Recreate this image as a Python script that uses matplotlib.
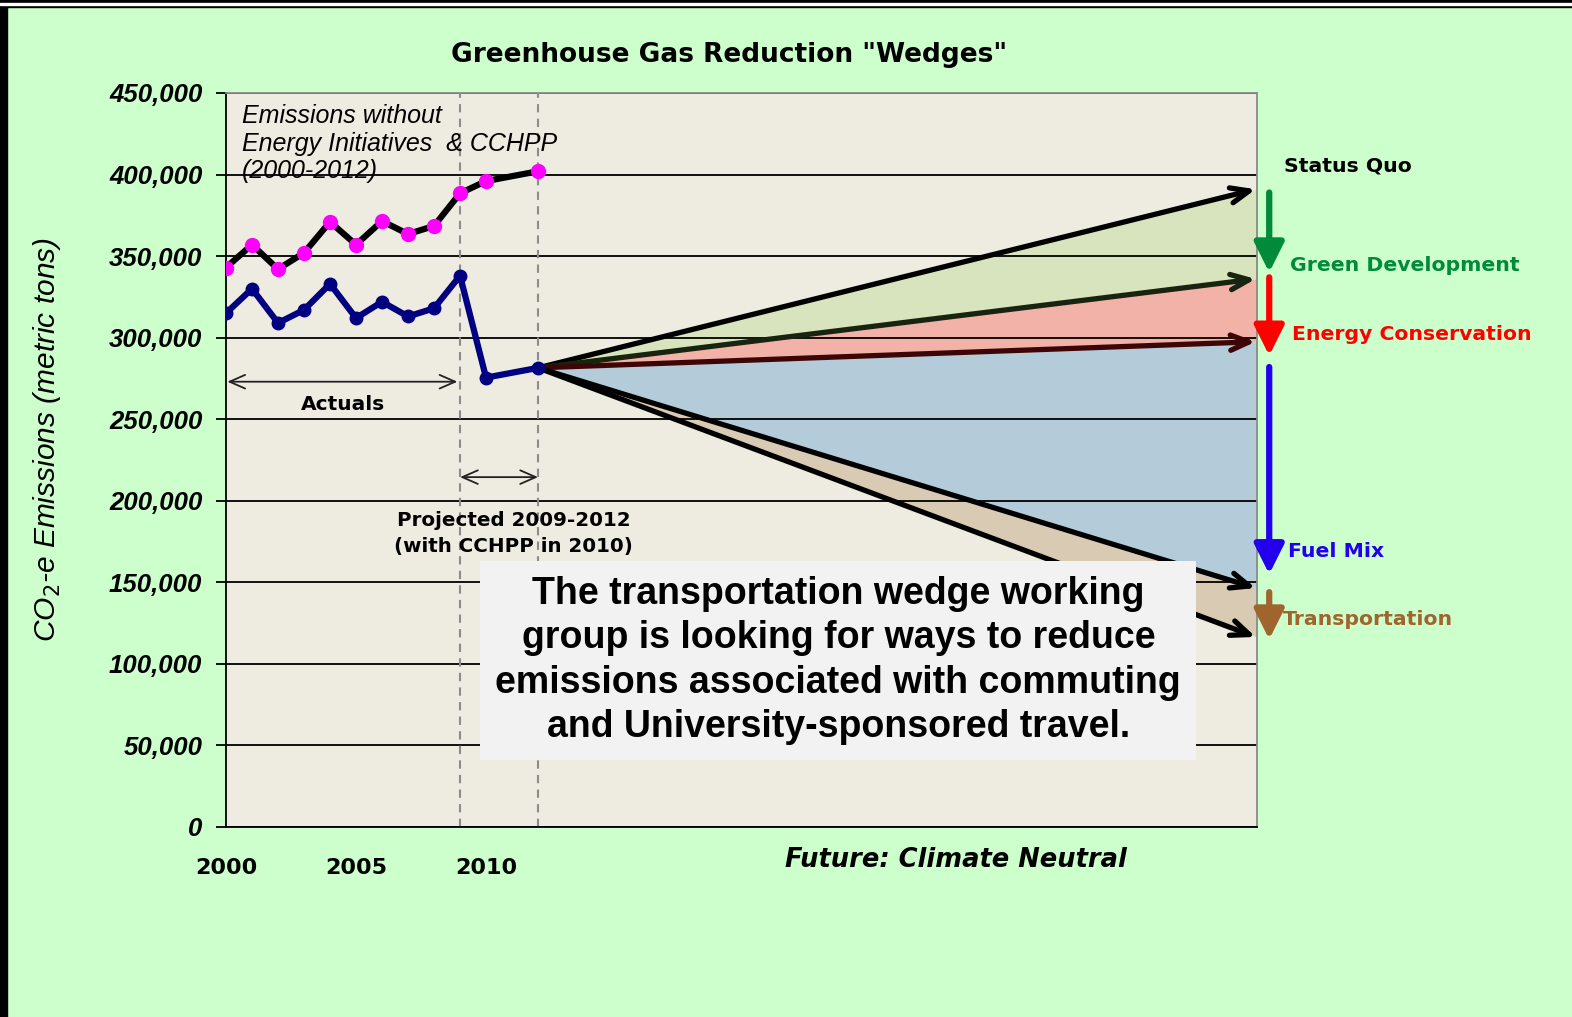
import matplotlib
matplotlib.use("Agg")
import matplotlib.pyplot as plt
from matplotlib.patches import Rectangle

plt.rcParams['font.family'] = ['Liberation Sans', 'DejaVu Sans']

# historical series (metric tons CO2-e)
years = [2000, 2001, 2002, 2003, 2004, 2005, 2006, 2007, 2008, 2009, 2010, 2012]
no_initiatives = [343000, 357000, 342000, 352000, 371000, 357000, 371500, 363500,
                  368500, 388500, 396000, 402000]
actual = [315000, 330000, 309000, 317000, 333000, 312000, 322000, 313000,
          318000, 338000, 275500, 281500]

# wedges: start (2012) and end values
wedge_start_year = 2012
wedge_end_year = 2039.6
wedge_names = ['Status Quo', 'Green Development', 'Energy Conservation', 'Fuel Mix', 'Transportation']
wedge_ends = [391000, 336000, 297500, 146500, 116500]
wedge_line_colors = ['#000000', '#18240f', '#3d0606', '#000000', '#000000']
wedge_fills = ['#d7e4bd', '#f2b2a8', '#b4cbd9', '#d9cab3']

# side arrows (start, end) and label heights
side_arrows = [(389000, 340000), (337000, 289000), (282000, 155000), (144000, 115000)]
side_colors = ['#008a3a', '#ff0000', '#2200ee', '#a0652e']
label_y = [405500, 344000, 302000, 169000, 127000]
label_colors = ['#000000', '#008a3a', '#ff0000', '#2200ee', '#a0652e']

yticks = [0, 50000, 100000, 150000, 200000, 250000, 300000, 350000, 400000, 450000]
xticks = [2000, 2005, 2010]

fig = plt.figure(figsize=(15.72, 10.17), dpi=100)
fig.patch.set_facecolor('#ccffcc')
ax = fig.add_axes([226 / 1572, 1 - 827 / 1017, 1031 / 1572, 734 / 1017])
ax.set_facecolor('#eeebe0')
ax.set_xlim(2000, 2039.65)
ax.set_ylim(0, 450000)

# frame of the slide
fig.patches.append(Rectangle((0, 1 - 7 / 1017), 1, 7 / 1017, transform=fig.transFigure,
                             color='black', zorder=10))
fig.patches.append(Rectangle((0, 1 - 4.5 / 1017), 1, 1.4 / 1017, transform=fig.transFigure,
                             color='white', zorder=11))
fig.patches.append(Rectangle((0, 0), 7 / 1572, 1, transform=fig.transFigure,
                             color='black', zorder=10))

# wedge fills
xw = [wedge_start_year, wedge_end_year + 0.05]
for i, c in enumerate(wedge_fills):
    ax.fill_between(xw, [actual[-1], wedge_ends[i]], [actual[-1], wedge_ends[i + 1]],
                    color=c, lw=0, zorder=1)

ax.set_axisbelow('line')
ax.yaxis.grid(True, color='black', lw=1.3)
ax.xaxis.grid(False)

for yr in [2009, 2012]:
    ax.axvline(yr, color='#8c8c8c', lw=1.5, ls=(0, (4, 3)), zorder=1.6)

# wedge lines with arrows
for end, col in zip(wedge_ends, wedge_line_colors):
    ax.annotate('', xy=(wedge_end_year, end), xytext=(wedge_start_year, actual[-1]),
                arrowprops=dict(arrowstyle='->,head_length=0.6,head_width=0.25', color=col,
                                lw=3.8, shrinkA=0, shrinkB=0, mutation_scale=22),
                zorder=3)

# historical lines
ax.plot(years, no_initiatives, color='black', lw=4.5, marker='o', ms=10,
        mfc='#ff00ff', mec='#ff00ff', zorder=4)
ax.plot(years, actual, color='#000080', lw=4.5, marker='o', ms=9,
        mfc='#000080', mec='#000080', zorder=4)

# axes styling
for s in ['left', 'bottom']:
    ax.spines[s].set_color('black')
    ax.spines[s].set_linewidth(1.3)
for s in ['top', 'right']:
    ax.spines[s].set_color('#8a8a8a')
    ax.spines[s].set_linewidth(1.3)

ax.set_yticks(yticks)
ax.set_yticklabels([f'{v:,}' for v in yticks])
ax.set_xticks(xticks)
ax.set_xticklabels([str(x) for x in xticks])
ax.tick_params(axis='y', length=7, width=1.3, pad=10, labelsize=18.5)
ax.tick_params(axis='x', length=0, pad=22, labelsize=16)
for lab in ax.get_yticklabels():
    lab.set_fontweight('bold')
    lab.set_fontstyle('italic')
for lab in ax.get_xticklabels():
    lab.set_fontweight('bold')
    lab.set_family('DejaVu Sans')

fig.text(47 / 1572, 1 - 440 / 1017, 'CO$_2$-e Emissions (metric tons)', rotation=90,
         ha='center', va='center', fontsize=21.5, style='italic')

fig.text(729 / 1572, 1 - 55 / 1017, 'Greenhouse Gas Reduction "Wedges"', ha='center',
         va='center', fontsize=19, fontweight='bold', family='DejaVu Sans', color='black')

fig.text(956 / 1572, 1 - 860 / 1017, 'Future: Climate Neutral', ha='center', va='center',
         fontsize=18.5, fontweight='bold', style='italic', family='DejaVu Sans')

# annotations inside the plot
ax.text(2000.6, 419000, 'Emissions without\nEnergy Initiatives  & CCHPP\n(2000-2012)',
        ha='left', va='center', fontsize=18, style='italic', linespacing=1.17, zorder=5)

ax.annotate('', xy=(2000.05, 273000), xytext=(2008.9, 273000),
            arrowprops=dict(arrowstyle='<->,head_length=0.8,head_width=0.35', color='#222222',
                            lw=1.3, shrinkA=0, shrinkB=0, mutation_scale=14), zorder=5)
ax.text(2004.5, 259000, 'Actuals', ha='center', va='center', fontsize=14.5,
        fontweight='bold', family='DejaVu Sans', zorder=5)

ax.annotate('', xy=(2009.0, 214500), xytext=(2012.0, 214500),
            arrowprops=dict(arrowstyle='<->,head_length=0.8,head_width=0.35', color='#222222',
                            lw=1.3, shrinkA=0, shrinkB=0, mutation_scale=14), zorder=5)
ax.text(2011.05, 180000, 'Projected 2009-2012\n(with CCHPP in 2010)', ha='center', va='center',
        fontsize=14.3, fontweight='bold', family='DejaVu Sans', linespacing=1.45, zorder=5)

# side arrows and labels
for (y0, y1), col in zip(side_arrows, side_colors):
    ax.annotate('', xy=(2040.12, y1), xytext=(2040.12, y0), annotation_clip=False,
                arrowprops=dict(arrowstyle='-|>,head_length=0.9,head_width=0.45', color=col,
                                lw=4.5, shrinkA=0, shrinkB=0, mutation_scale=20))
label_x = [2040.7, 2040.9, 2041.0, 2040.85, 2040.65]
for name, lx, ly, col in zip(wedge_names, label_x, label_y, label_colors):
    ax.text(lx, ly, name, ha='left', va='center', fontsize=14.7, fontweight='bold',
            family='DejaVu Sans', color=col, clip_on=False)

# message box
ax.text(2023.55, 102000,
        'The transportation wedge working\ngroup is looking for ways to reduce\n'
        'emissions associated with commuting\nand University-sponsored travel.',
        ha='center', va='center', fontsize=27, fontweight='bold', linespacing=1.3,
        zorder=8, bbox=dict(boxstyle='square,pad=0.4', fc='#f2f2f2', ec='none'))

fig.savefig('out.png', dpi=100, facecolor=fig.get_facecolor())
